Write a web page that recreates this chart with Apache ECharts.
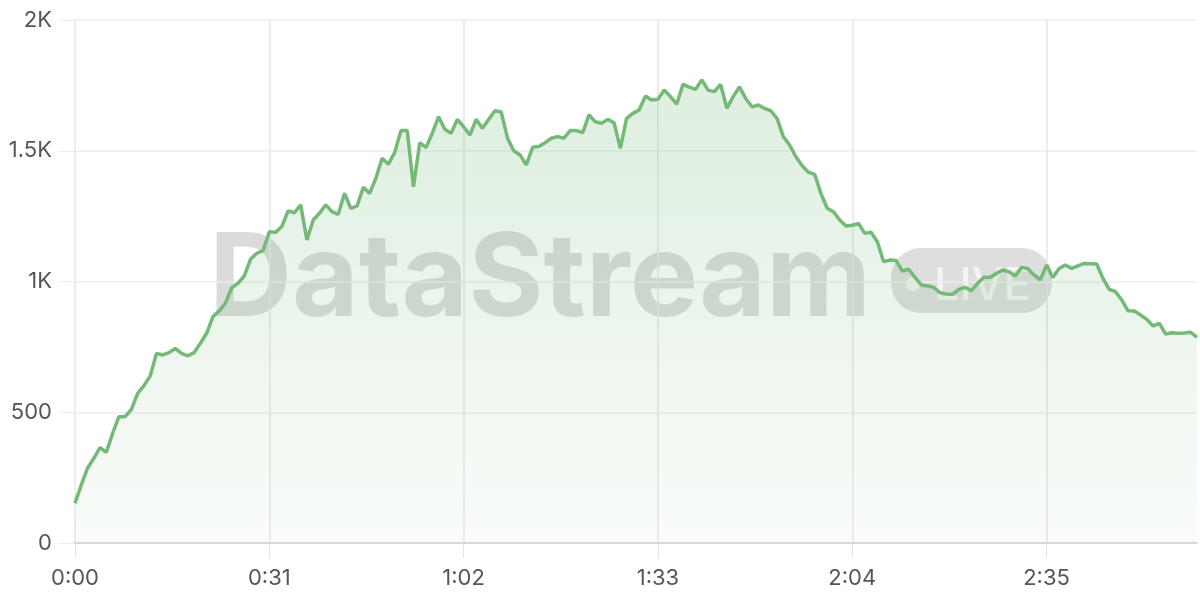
<!DOCTYPE html>
<html>
<head>
<meta charset="utf-8">
<script src="https://cdn.jsdelivr.net/npm/echarts@6/dist/echarts.min.js"></script>
<style>html,body{margin:0;padding:0;background:#fff;}#c{width:1200px;height:600px;}</style>
</head>
<body>
<div id="c"></div>
<script>
// viewers per second, 0:00 .. 2:59
const values = [
  152, 222, 286, 324, 365, 347, 419, 483, 483, 511,
  572, 602, 639, 725, 719, 728, 744, 725, 716, 728,
  764, 802, 865, 888, 917, 976, 993, 1021, 1085, 1108,
  1118, 1190, 1188, 1210, 1270, 1263, 1293, 1159, 1235, 1261,
  1293, 1267, 1257, 1337, 1280, 1289, 1360, 1337, 1395, 1471,
  1449, 1493, 1577, 1577, 1362, 1531, 1512, 1567, 1630, 1582,
  1567, 1620, 1592, 1560, 1620, 1586, 1620, 1653, 1648, 1548,
  1500, 1484, 1446, 1513, 1516, 1531, 1548, 1554, 1548, 1577,
  1577, 1569, 1637, 1611, 1605, 1620, 1607, 1509, 1624, 1643,
  1656, 1709, 1694, 1697, 1732, 1707, 1678, 1754, 1743, 1735,
  1771, 1732, 1726, 1754, 1662, 1707, 1744, 1700, 1668, 1675,
  1662, 1653, 1624, 1554, 1522, 1477, 1443, 1418, 1410, 1337,
  1280, 1267, 1235, 1212, 1215, 1222, 1184, 1188, 1152, 1076,
  1082, 1080, 1040, 1047, 1016, 987, 983, 978, 957, 952,
  951, 970, 978, 965, 993, 1016, 1016, 1031, 1044, 1037,
  1021, 1054, 1050, 1025, 1006, 1063, 1015, 1050, 1063, 1050,
  1060, 1069, 1068, 1067, 1012, 970, 961, 929, 888, 887,
  872, 855, 830, 840, 799, 804, 802, 803, 806, 786
];
const categories = values.map((_, s) => Math.floor(s / 60) + ':' + String(s % 60).padStart(2, '0'));
const yTickLabels = {0: '0', 500: '500', 1000: '1K', 1500: '1.5K', 2000: '2K'};
const watermarkText = 'DataStream';
const badgeText = 'LIVE';

const chart = echarts.init(document.getElementById('c'), null, {renderer: 'canvas'});
const font = 'Inter';
chart.setOption({
  animation: false,
  grid: {left: 75, right: 3, top: 20, bottom: 57, containLabel: false},
  xAxis: {
    type: 'category',
    data: categories,
    boundaryGap: false,
    axisLine: {lineStyle: {color: '#cfcfcf', width: 1.5}},
    axisTick: {show: true, interval: 30, length: 15, lineStyle: {color: '#e3e3e3'}},
    axisLabel: {interval: 30, color: '#555', fontSize: 22, fontFamily: font, margin: 24},
    splitLine: {show: true, interval: 30, lineStyle: {color: '#e6e6e6', width: 1.5}}
  },
  yAxis: {
    type: 'value',
    min: 0, max: 2000, interval: 500,
    axisLine: {show: false},
    axisTick: {show: true, length: 16, lineStyle: {color: '#ececec'}},
    axisLabel: {color: '#555', fontSize: 22, fontFamily: font, margin: 23,
      formatter: v => yTickLabels[v] !== undefined ? yTickLabels[v] : String(v)},
    splitLine: {lineStyle: {color: '#ececec', width: 1.5}}
  },
  graphic: [
    {type: 'text', z: 0, x: 209, y: 281,
      style: {text: watermarkText, font: '700 115px Inter', fill: 'rgba(0,0,0,0.14)', textVerticalAlign: 'middle'}},
    {type: 'rect', z: 0, shape: {x: 891, y: 248, width: 161, height: 65, r: 30},
      style: {fill: 'rgba(0,0,0,0.13)'}},
    {type: 'circle', z: 0, shape: {cx: 913, cy: 284, r: 7}, style: {fill: 'rgba(255,255,255,0.65)'}},
    {type: 'text', z: 0, x: 934, y: 286,
      style: {text: badgeText, font: '500 45px Inter', fill: 'rgba(255,255,255,0.65)', textVerticalAlign: 'middle'}}
  ],
  series: [{
    type: 'line',
    data: values,
    showSymbol: false,
    symbol: 'none',
    lineStyle: {color: '#74b978', width: 3.5},
    areaStyle: {
      color: new echarts.graphic.LinearGradient(0, 0, 0, 1, [
        {offset: 0, color: 'rgba(116,185,120,0.34)'},
        {offset: 1, color: 'rgba(116,185,120,0.06)'}
      ])
    }
  }]
});
</script>
</body>
</html>
